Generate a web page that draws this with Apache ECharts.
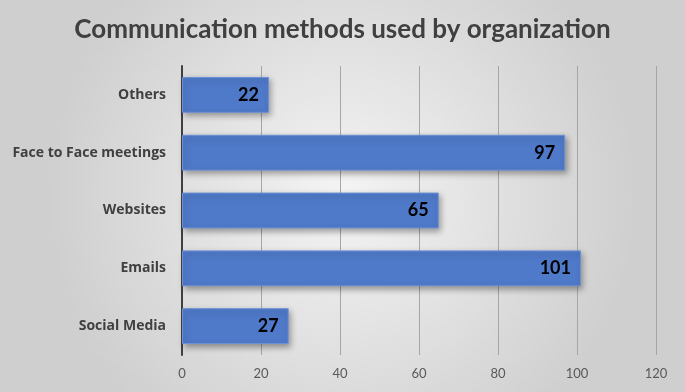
<!DOCTYPE html>
<html>
<head>
<meta charset="utf-8">
<script src="https://cdn.jsdelivr.net/npm/echarts@6/dist/echarts.min.js"></script>
<style>
  html, body { margin: 0; padding: 0; }
  #chart { width: 685px; height: 392px; }
</style>
</head>
<body>
<div id="chart"></div>
<script>
// 数据
var categories = ["Social Media", "Emails", "Websites", "Face to Face meetings", "Others"];
var values = [27, 101, 65, 97, 22];
var xTicks = [0, 20, 40, 60, 80, 100, 120];

var chart = echarts.init(document.getElementById("chart"));
var option = {
  backgroundColor: {
    type: "radial",
    x: 0.5, y: 0.5, r: 0.75,
    colorStops: [
      { offset: 0, color: "#f4f4f4" },
      { offset: 1, color: "#cfcfcf" }
    ]
  },
  title: {
    text: "Communication methods used by organization",
    left: "center",
    top: 12,
    textStyle: {
      fontFamily: "Lato",
      fontWeight: "bold",
      fontSize: 26,
      color: "#404040"
    }
  },
  grid: { left: 182, right: 29, top: 66, bottom: 37 },
  xAxis: {
    type: "value",
    min: xTicks[0],
    max: xTicks[xTicks.length - 1],
    interval: 20,
    axisLine: { show: false },
    axisTick: { show: false },
    axisLabel: { color: "#595959", fontFamily: "Lato", fontSize: 13, margin: 12 },
    splitLine: { lineStyle: { color: "#a6a6a6", width: 1 } }
  },
  yAxis: {
    type: "category",
    data: categories,
    axisLine: { lineStyle: { color: "#404040", width: 2 } },
    axisTick: { show: false },
    axisLabel: {
      color: "#404040",
      fontFamily: "Open Sans",
      fontWeight: "bold",
      fontSize: 14,
      margin: 16
    }
  },
  series: [
    {
      type: "bar",
      data: values,
      barWidth: "62%",
      itemStyle: {
        color: "#4f79c9",
        borderColor: "#6d90d4",
        borderWidth: 1,
        shadowColor: "rgba(0,0,0,0.35)",
        shadowBlur: 6,
        shadowOffsetX: 2,
        shadowOffsetY: 3
      },
      label: {
        show: true,
        position: "insideRight",
        color: "#000",
        fontFamily: "Lato",
        fontWeight: "bold",
        fontSize: 18,
        distance: 10
      }
    }
  ]
};
chart.setOption(option);
window.onresize = function () {
  chart.resize();
};
</script>
</body>
</html>
